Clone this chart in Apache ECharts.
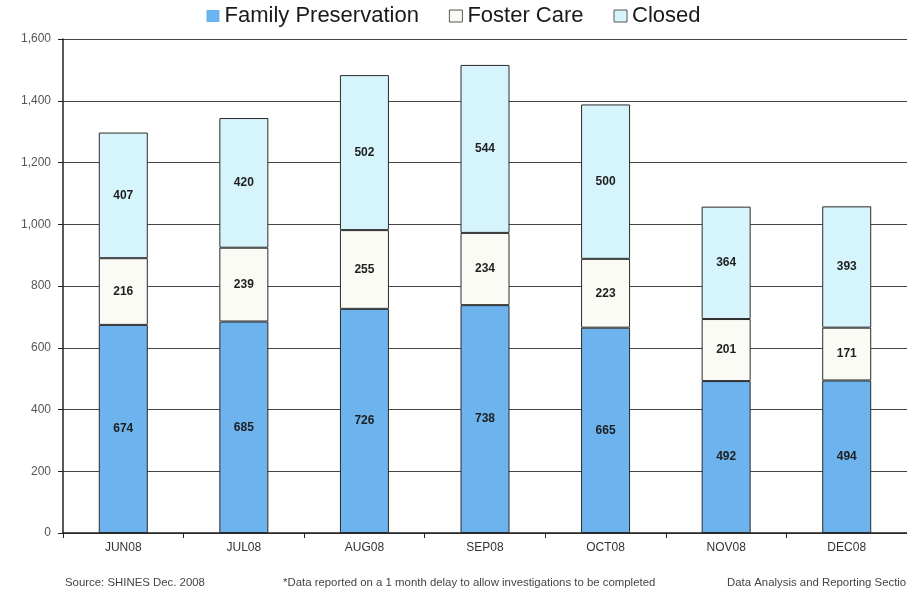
<!DOCTYPE html>
<html>
<head>
<meta charset="utf-8">
<script src="https://cdn.jsdelivr.net/npm/echarts@6/dist/echarts.min.js"></script>
<style>html,body{margin:0;padding:0;background:#fff;}#c{width:907px;height:596px;}</style>
</head>
<body>
<div id="c"></div>
<script>
var categories = ['JUN08', 'JUL08', 'AUG08', 'SEP08', 'OCT08', 'NOV08', 'DEC08'];
var familyPreservation = [674, 685, 726, 738, 665, 492, 494];
var fosterCare = [216, 239, 255, 234, 223, 201, 171];
var closedCases = [407, 420, 502, 544, 500, 364, 393];
var yTicks = [0, 200, 400, 600, 800, 1000, 1200, 1400, 1600];

var chart = echarts.init(document.getElementById('c'));
var font = 'Liberation Sans, Arial, sans-serif';
function seg(name, data, color) {
  return {
    name: name, type: 'bar', stack: 'total', data: data, barWidth: 49,
    itemStyle: { color: color, borderColor: '#2a2a2a', borderWidth: 1 },
    label: { show: true, position: 'inside', color: '#1e1e1e', fontSize: 12, fontWeight: 'bold', fontFamily: font },
    emphasis: { disabled: true }
  };
}
chart.setOption({
  animation: false,
  backgroundColor: '#ffffff',
  legend: {
    top: 0, left: 'center', icon: 'rect', itemWidth: 13, itemHeight: 12, itemGap: 30,
    textStyle: { fontSize: 22, color: '#1a1a1a', fontFamily: font },
    data: [
      { name: 'Family Preservation', itemStyle: { color: '#6db3ee', borderWidth: 0 } },
      { name: 'Foster Care', itemStyle: { color: '#fbfbf6', borderColor: '#555', borderWidth: 1 } },
      { name: 'Closed', itemStyle: { color: '#d6f4fc', borderColor: '#555', borderWidth: 1 } }
    ]
  },
  grid: { left: 63, right: -3, top: 39, bottom: 63, containLabel: false },
  xAxis: {
    type: 'category', data: categories,
    axisLine: { lineStyle: { color: '#222', width: 1.5 } },
    axisTick: { show: true, length: 5, lineStyle: { color: '#222' } },
    axisLabel: { color: '#333', fontSize: 12, fontFamily: font, margin: 9 }
  },
  yAxis: {
    type: 'value', min: 0, max: 1600, interval: 200,
    axisLine: { show: true, lineStyle: { color: '#222', width: 1.5 } },
    axisTick: { show: true, length: 5, lineStyle: { color: '#222' } },
    axisLabel: {
      color: '#555', fontSize: 12, fontFamily: font, margin: 12,
      formatter: function (v) { return yTicks.indexOf(v) >= 0 ? v.toLocaleString('en-US') : ''; }
    },
    splitLine: { show: true, lineStyle: { color: '#444', width: 1 } }
  },
  series: [
    seg('Family Preservation', familyPreservation, '#6db3ee'),
    seg('Foster Care', fosterCare, '#fbfbf6'),
    seg('Closed', closedCases, '#d6f4fc')
  ],
  graphic: [
    { type: 'text', left: 65, top: 577, style: { text: 'Source: SHINES Dec. 2008', fontSize: 11.4, fill: '#444', fontFamily: font } },
    { type: 'text', left: 283, top: 577, style: { text: '*Data reported on a 1 month delay to allow investigations to be completed', fontSize: 11.4, fill: '#444', fontFamily: font } },
    { type: 'text', left: 727, top: 577, style: { text: 'Data Analysis and Reporting Section', fontSize: 11.4, fill: '#444', fontFamily: font } }
  ]
});
</script>
</body>
</html>
